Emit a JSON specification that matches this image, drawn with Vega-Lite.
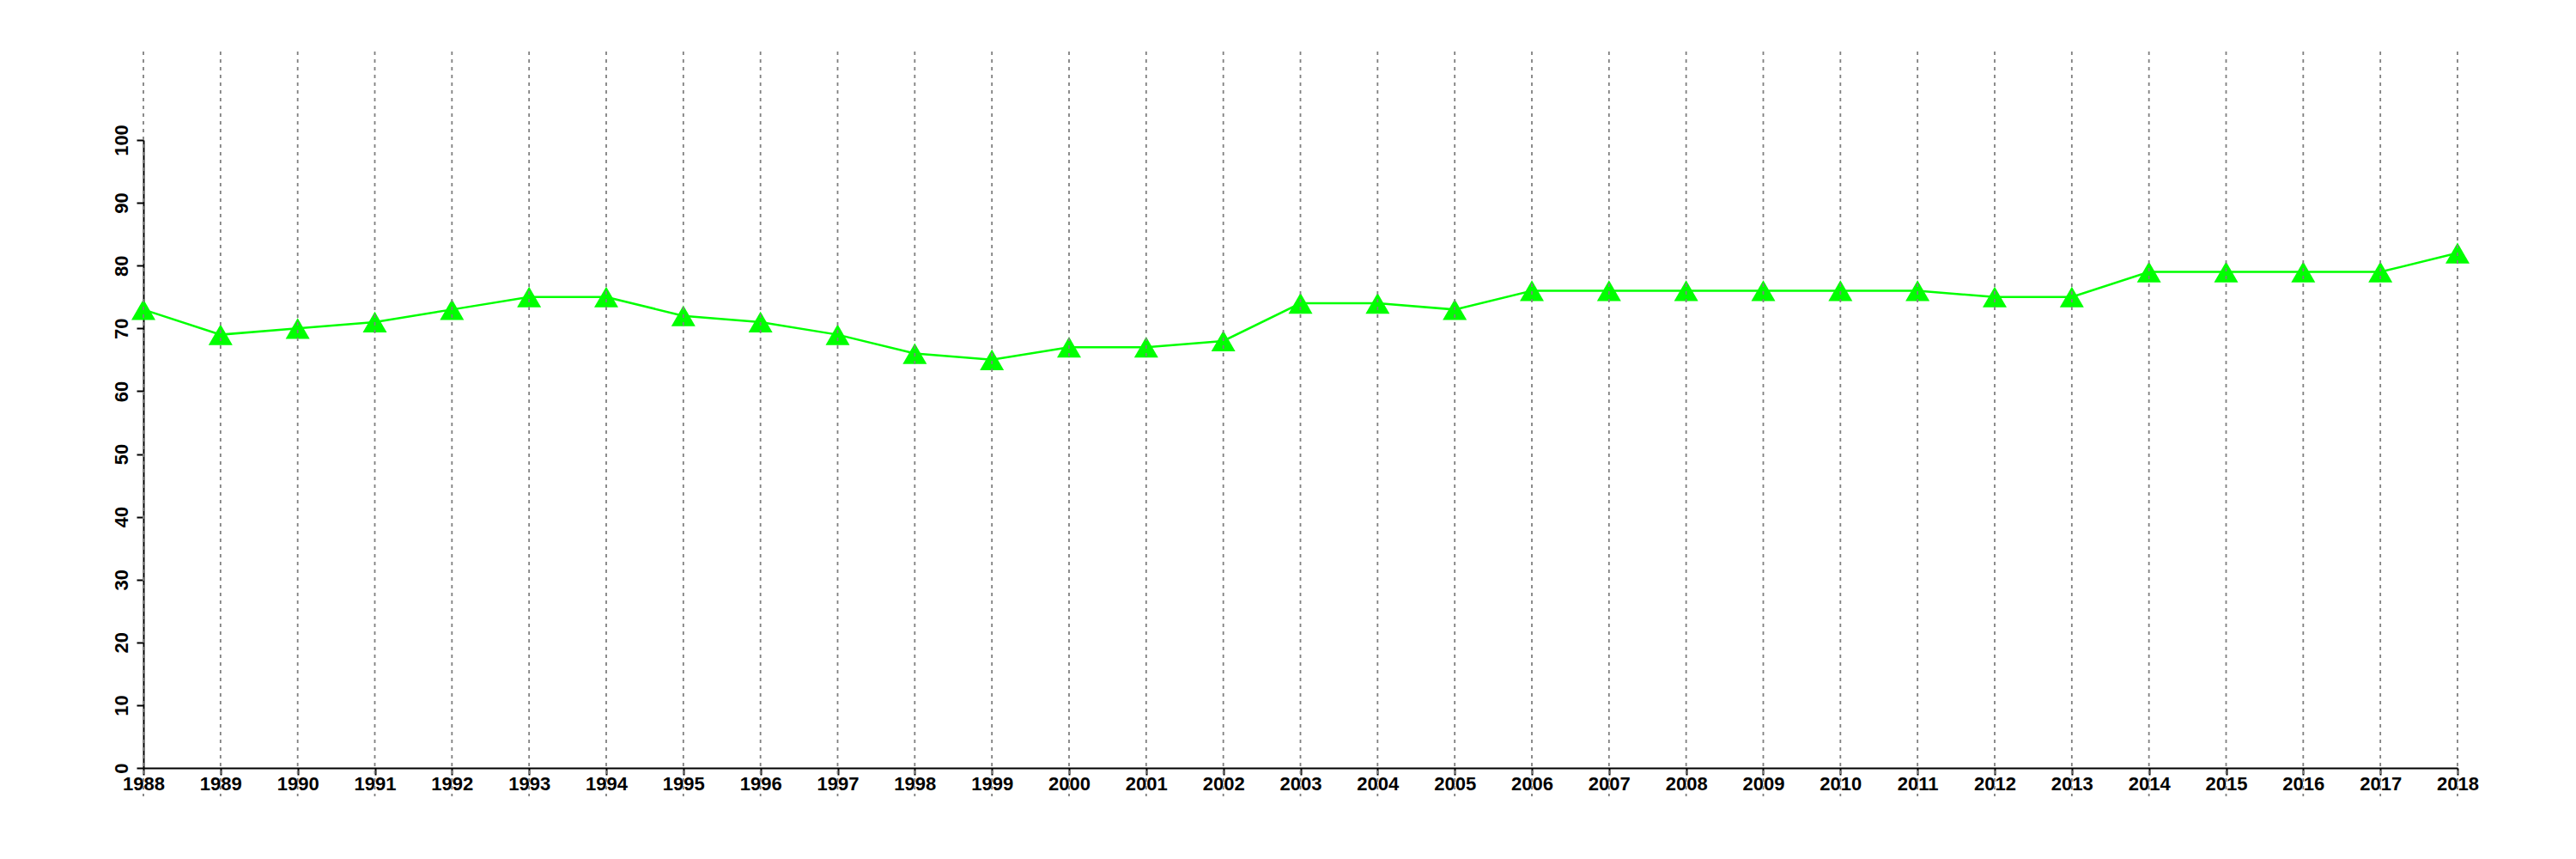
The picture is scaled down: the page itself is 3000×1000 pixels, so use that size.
{
  "$schema": "https://vega.github.io/schema/vega-lite/v6.json",
  "autosize": {"type": "none"},
  "padding": {"left": 167, "top": 163, "right": 138, "bottom": 106},
  "width": 2695,
  "height": 731,
  "background": "white",
  "config": {"view": {"stroke": null}},
  "data": {"values": [
    {"year": 1988, "value": 73}, {"year": 1989, "value": 69}, {"year": 1990, "value": 70},
    {"year": 1991, "value": 71}, {"year": 1992, "value": 73}, {"year": 1993, "value": 75},
    {"year": 1994, "value": 75}, {"year": 1995, "value": 72}, {"year": 1996, "value": 71},
    {"year": 1997, "value": 69}, {"year": 1998, "value": 66}, {"year": 1999, "value": 65},
    {"year": 2000, "value": 67}, {"year": 2001, "value": 67}, {"year": 2002, "value": 68},
    {"year": 2003, "value": 74}, {"year": 2004, "value": 74}, {"year": 2005, "value": 73},
    {"year": 2006, "value": 76}, {"year": 2007, "value": 76}, {"year": 2008, "value": 76},
    {"year": 2009, "value": 76}, {"year": 2010, "value": 76}, {"year": 2011, "value": 76},
    {"year": 2012, "value": 75}, {"year": 2013, "value": 75}, {"year": 2014, "value": 79},
    {"year": 2015, "value": 79}, {"year": 2016, "value": 79}, {"year": 2017, "value": 79},
    {"year": 2018, "value": 82}
  ]},
  "layer": [
    {
      "mark": {"type": "line", "color": "#00ff00", "strokeWidth": 2.5},
      "encoding": {
        "x": {"field": "year", "type": "quantitative",
              "scale": {"domain": [1988, 2018], "nice": false, "zero": false},
              "axis": {"values": [1988,1989,1990,1991,1992,1993,1994,1995,1996,1997,1998,1999,2000,2001,2002,2003,2004,2005,2006,2007,2008,2009,2010,2011,2012,2013,2014,2015,2016,2017,2018],
                       "format": "d", "title": null, "grid": false,
                       "domainColor": "black", "domainWidth": 2, "tickColor": "black", "tickWidth": 2, "tickSize": 8,
                       "labelFont": "Liberation Sans", "labelFontSize": 22, "labelFontWeight": "bold", "labelColor": "black",
                       "labelPadding": 0, "labelFlush": false, "labelOverlap": false}},
        "y": {"field": "value", "type": "quantitative",
              "scale": {"domain": [0, 100], "nice": false},
              "axis": {"values": [0,10,20,30,40,50,60,70,80,90,100],
                       "title": null, "grid": false,
                       "domainColor": "black", "domainWidth": 2, "tickColor": "black", "tickWidth": 2, "tickSize": 8,
                       "labelFont": "Liberation Sans", "labelFontSize": 22, "labelFontWeight": "bold", "labelColor": "black",
                       "labelAngle": 270, "labelAlign": "center", "labelBaseline": "bottom", "labelPadding": 6, "labelFlush": false, "labelOverlap": false}}
      }
    },
    {
      "mark": {"type": "point", "shape": "triangle-up", "filled": true, "color": "#00ff00", "size": 784, "opacity": 1},
      "encoding": {
        "x": {"field": "year", "type": "quantitative"},
        "y": {"field": "value", "type": "quantitative"}
      }
    },
    {
      "mark": {"type": "rule", "color": "#808080", "strokeWidth": 1.8, "strokeDash": [4, 5], "clip": false},
      "encoding": {
        "x": {"field": "year", "type": "quantitative"},
        "y": {"datum": 114.1},
        "y2": {"datum": -4.5}
      }
    }
  ]
}
